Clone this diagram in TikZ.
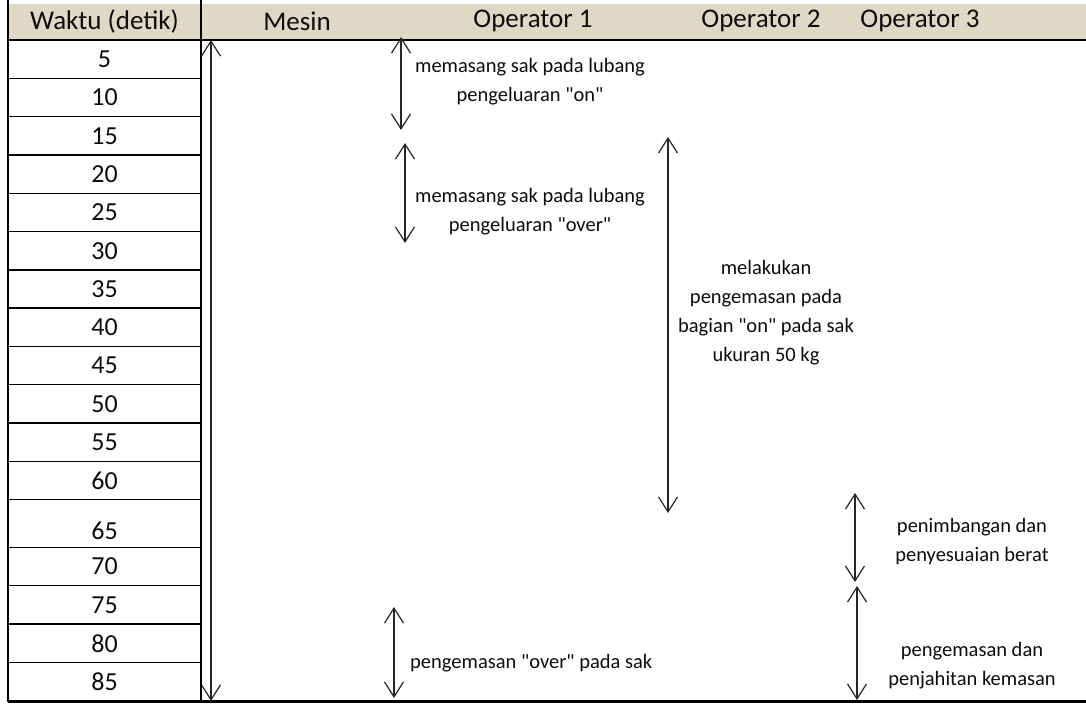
\documentclass[tikz,border=0pt]{standalone}
\usepackage{fontspec}
\setmainfont{Carlito}
\newfontfamily\carl{Carlito}
\usetikzlibrary{arrows.meta}
\definecolor{hdr}{HTML}{DDD9C4}
\definecolor{ink}{HTML}{0D0D0D}
\newcommand{\dq}{{\carl\char34\relax}}
\begin{document}
\begin{tikzpicture}[x=1pt,y=-1pt,
  hdrtext/.style={font=\carl\fontsize{27}{30}\selectfont, text=ink, inner sep=0pt},
  cell/.style={draw=black, line width=1.4pt, minimum width=193pt, inner sep=0pt, font=\carl\fontsize{26}{30}\selectfont, text=ink},
  celltext/.style={font=\carl\fontsize{26}{30}\selectfont, text=ink, inner sep=0pt},
  note/.style={font=\carl\fontsize{20.5}{29}\selectfont, text=ink, align=center, inner sep=0pt},
  dur/.style={{Straight Barb[length=15pt,width=19pt]}-{Straight Barb[length=15pt,width=19pt]}, line width=1.2pt, draw=black!85},
  frame/.style={draw=black, line width=2pt}
]
\useasboundingbox (0,0) rectangle (1086,704);
\fill[white] (0,0) rectangle (1086,704);
% header band
\fill[hdr] (8,4) rectangle (1086,40);
\node[hdrtext] (hW) at (104.5,21) {Waktu (detik)};
\node[hdrtext] (hM) at (297,21) {Mesin};
\node[hdrtext] (h1) at (533,21) {Operator 1};
\node[hdrtext] (h2) at (761,21) {Operator 2};
\node[hdrtext] (h3) at (920,21) {Operator 3};
% time rows
\foreach \v [count=\i from 0] in {5,10,15,20,25,30,35,40,45,50,55,60} {
  \node[cell, minimum height=38.3pt] (r\v) at (104.5,{40+38.3*\i+19.15}) {\v};
}
\node[cell, minimum height=47.7pt] (r65) at (104.5,523.45) {};
\node[celltext] (n65) at (104.5,530.5) {65};
\node[cell, minimum height=38.4pt] (r70) at (104.5,566.5) {70};
\node[cell, minimum height=38.3pt] (r75) at (104.5,604.85) {75};
\node[cell, minimum height=38.7pt] (r80) at (104.5,643.35) {80};
\node[cell, minimum height=38.6pt] (r85) at (104.5,682) {85};
% frame lines
\coordinate (lt) at (8,0);   \coordinate (lb) at (8,701.5);
\coordinate (st) at (201,0); \coordinate (sb) at (201,701.5);
\coordinate (hl) at (8,40);  \coordinate (hr) at (1086,40);
\coordinate (bl) at (8,701.5); \coordinate (br) at (1086,701.5);
\draw[frame] (lt) -- (lb);
\draw[frame] (st) -- (sb);
\draw[frame] (hl) -- (hr);
\draw[draw=black, line width=2.6pt] (bl) -- (br);
% duration arrows
\coordinate (m1) at (211,40);   \coordinate (m2) at (211,701);
\coordinate (a1) at (401,37);   \coordinate (a2) at (401,130);
\coordinate (b1) at (405,143);  \coordinate (b2) at (405,243);
\coordinate (c1) at (394,607);  \coordinate (c2) at (394,698);
\coordinate (d1) at (668,137);  \coordinate (d2) at (668,513);
\coordinate (e1) at (855,493);  \coordinate (e2) at (855,582);
\coordinate (f1) at (857,586);  \coordinate (f2) at (857,700);
\draw[dur] (m1) -- (m2);
\draw[dur] (a1) -- (a2);
\draw[dur] (b1) -- (b2);
\draw[dur] (c1) -- (c2);
\draw[dur] (d1) -- (d2);
\draw[dur] (e1) -- (e2);
\draw[dur] (f1) -- (f2);
% labels
\node[note] (ta) at (530,81.5) {memasang sak pada lubang\\pengeluaran "on"};
\node[note] (tb) at (530,211.5) {memasang sak pada lubang\\pengeluaran "over"};
\node[note, anchor=west] (tc) at (410,663) {pengemasan "over" pada sak};
\node[note] (td) at (766,313) {melakukan\\pengemasan pada\\bagian "on" pada sak\\ukuran 50 kg};
\node[note] (te) at (972,541.5) {penimbangan dan\\penyesuaian berat};
\node[note] (tf) at (972,665.5) {pengemasan dan\\penjahitan kemasan};
\end{tikzpicture}
\end{document}
